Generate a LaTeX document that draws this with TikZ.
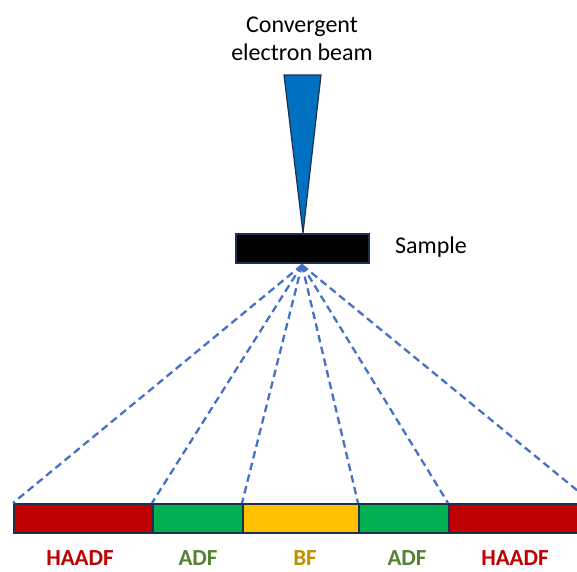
\documentclass[tikz,border=0pt]{standalone}
\usepackage{fontspec}
\setmainfont{Carlito}
\begin{document}
\begin{tikzpicture}[x=1pt,y=-1pt,
  outline/.style={draw=navyline,line width=1.6pt},
  seg/.style={outline,inner sep=0pt,minimum height=29pt,anchor=north west},
  ray/.style={draw=rayblue,line width=2.3pt,dash pattern=on 7.5pt off 4.5pt},
  lbl/.style={font=\fontsize{23}{26}\selectfont\bfseries,anchor=base,inner sep=0pt}]
\definecolor{navyline}{HTML}{1F2F4F}
\definecolor{rayblue}{HTML}{4472C4}
\definecolor{beamblue}{HTML}{0070C0}
\definecolor{hred}{HTML}{C00000}
\definecolor{agreen}{HTML}{00B050}
\definecolor{byellow}{HTML}{FFC000}
\definecolor{adftext}{HTML}{548235}
\definecolor{bftext}{HTML}{BF9000}
\useasboundingbox (0,0) rectangle (577,571);
\begin{scope}
\clip (0,0) rectangle (577,571);
% beam cone
\coordinate (apex) at (303,233);
\filldraw[fill=beamblue,draw=navyline,line width=1.2pt] (284,75) -- (321,75) -- (apex) -- cycle;
% sample
\node[outline,fill=black,inner sep=0pt,minimum width=133pt,minimum height=29pt,anchor=north west] (sample) at (235,233) {};
\coordinate (focus) at (302,265);
% detector segments
\node[seg,fill=hred,minimum width=139pt] (haadfL) at (13,503) {};
\node[seg,fill=agreen,minimum width=90pt] (adfL) at (152,503) {};
\node[seg,fill=byellow,minimum width=116pt] (bf) at (242,503) {};
\node[seg,fill=agreen,minimum width=90pt] (adfR) at (358,503) {};
\node[seg,fill=hred,minimum width=143pt] (haadfR) at (448,503) {};
% scattered rays
\draw[ray] (focus) -- (haadfL.north west);
\draw[ray] (focus) -- (adfL.north west);
\draw[ray] (focus) -- (bf.north west);
\draw[ray] (focus) -- (adfR.north west);
\draw[ray] (focus) -- (haadfR.north west);
\draw[ray] (focus) -- (haadfR.north east);
\end{scope}
% labels
\node[align=center,font=\fontsize{24}{28}\selectfont,anchor=base,inner sep=0pt] (beamlbl) at (302,60) {Convergent\\electron beam};
\node[font=\fontsize{24}{28}\selectfont,anchor=base west,inner sep=0pt] (samplelbl) at (395,253) {Sample};
\node[lbl,text=hred] (t1) at (80,565) {HAADF};
\node[lbl,text=adftext] (t2) at (198,565) {ADF};
\node[lbl,text=bftext] (t3) at (305,565) {BF};
\node[lbl,text=adftext] (t4) at (407,565) {ADF};
\node[lbl,text=hred] (t5) at (515,565) {HAADF};
\end{tikzpicture}
\end{document}
